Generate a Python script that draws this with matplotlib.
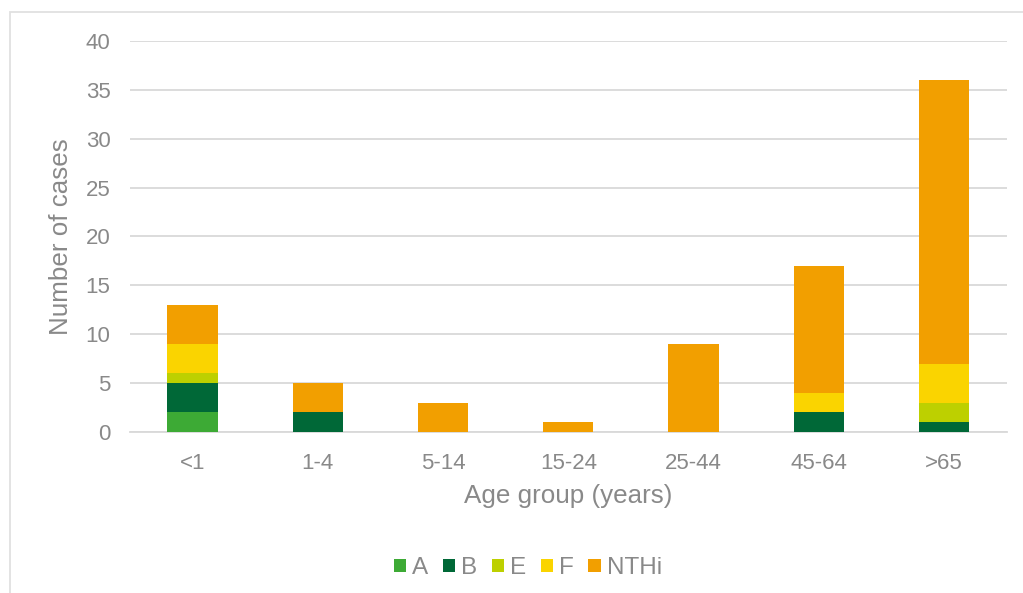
import numpy as np
import matplotlib.pyplot as plt
from matplotlib.patches import Rectangle

plt.rcParams['font.family'] = ['Liberation Sans', 'DejaVu Sans']

age_groups = ["<1", "1-4", "5-14", "15-24", "25-44", "45-64", ">65"]
serotypes = ["A", "B", "E", "F", "NTHi"]
cases_a = [2, 0, 0, 0, 0, 0, 0]
cases_b = [3, 2, 0, 0, 0, 2, 1]
cases_e = [1, 0, 0, 0, 0, 0, 2]
cases_f = [3, 0, 0, 0, 0, 2, 4]
cases_nthi = [4, 3, 3, 1, 9, 13, 29]
colours = ["#3DAA35", "#006837", "#BDD000", "#FAD400", "#F29F00"]

text_grey = "#898989"
grid_grey = "#D9D9D9"

fig = plt.figure(figsize=(10.23, 5.93), dpi=100)
ax = fig.add_axes([0.127, 0.2715, 0.857, 0.6595])

x = np.arange(len(age_groups))
bottom = np.zeros(len(age_groups))
for name, vals, col in zip(serotypes, [cases_a, cases_b, cases_e, cases_f, cases_nthi], colours):
    ax.bar(x, vals, bottom=bottom, width=0.4, color=col, label=name, zorder=3)
    bottom += np.array(vals)

ax.set_xlim(-0.5, 6.5)
ax.set_ylim(0, 40)
ax.set_yticks(range(0, 41, 5))
ax.set_xticks(x)
ax.set_xticklabels(age_groups)
ax.yaxis.grid(True, color=grid_grey, linewidth=1.3, zorder=0)
ax.tick_params(axis='both', length=0, labelsize=16, labelcolor=text_grey)
ax.tick_params(axis='x', pad=15)
ax.tick_params(axis='y', pad=14)
for s in ["top", "right", "left"]:
    ax.spines[s].set_visible(False)
ax.spines["bottom"].set_color(grid_grey)
ax.spines["bottom"].set_linewidth(1.3)

ax.set_xlabel("Age group (years)", fontsize=18.7, color=text_grey, labelpad=7)
ax.set_ylabel("Number of cases", fontsize=18.7, color=text_grey, labelpad=9)

fig.legend(loc="center", bbox_to_anchor=(0.516, 0.042), ncol=5, frameon=False,
           fontsize=17.5, labelcolor=text_grey, handlelength=0.5, handleheight=0.5,
           handletextpad=0.25, columnspacing=0.6)

# light chart border (cropped on right and bottom)
fig.patches.append(Rectangle((9.5 / 1023, -0.1), 1.2, 1 - 12.5 / 593 + 0.1,
                             transform=fig.transFigure, fill=False,
                             edgecolor="#E0E0E0", linewidth=1.3))

fig.savefig("out.png", dpi=100)
